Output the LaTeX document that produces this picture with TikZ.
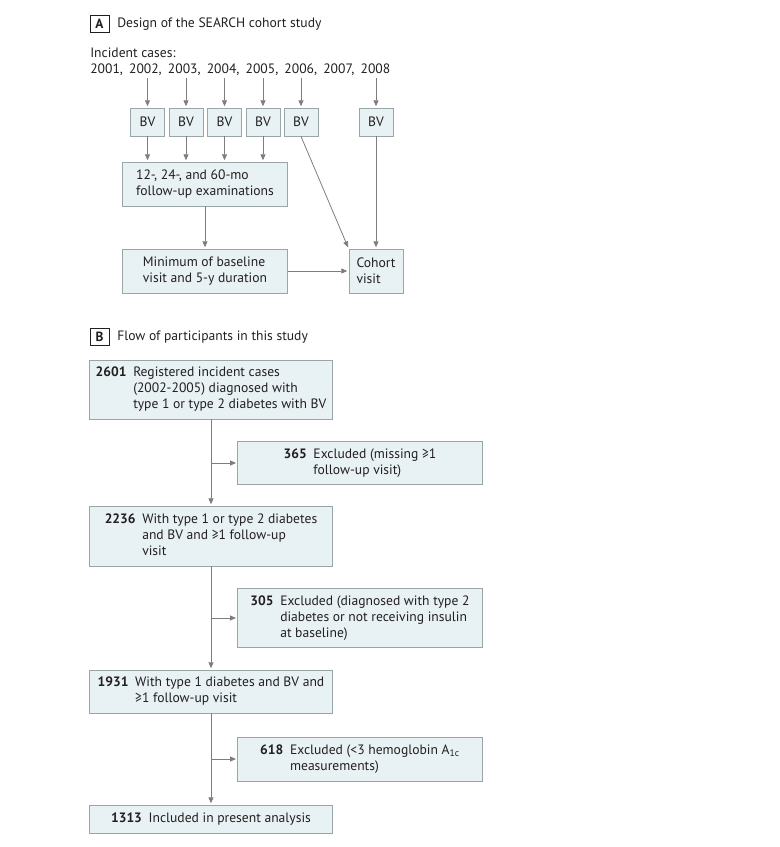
\documentclass[tikz,border=0pt]{standalone}
\usepackage{fontspec}
\setmainfont{PT Sans}
\usetikzlibrary{arrows.meta}
\definecolor{boxfill}{HTML}{E8F1F3}
\definecolor{boxline}{HTML}{9AA5A8}
\definecolor{linegray}{HTML}{7D7D7D}
\definecolor{ink}{HTML}{231F20}
\newcommand{\cnt}[2]{\begin{tabular}{@{}l@{\hspace{5pt}}l@{}}\textbf{#1} & #2\end{tabular}}
\tikzset{flow/.style={draw=linegray, line width=0.6pt,
  -{Triangle[length=4.5pt, width=3.8pt]}, shorten >=1pt}}
\tikzset{box/.style={draw=boxline, fill=boxfill, line width=0.6pt,
  inner sep=0pt, align=left, text=ink}}
\tikzset{bvbox/.style={box, minimum width=25.5pt, minimum height=21pt}}
\tikzset{widebox/.style={box, minimum width=123.5pt, minimum height=33pt}}
\tikzset{mainbox/.style={box, minimum width=182.6pt}}
\tikzset{exbox/.style={box, minimum width=183.4pt}}
\tikzset{panel/.style={draw=ink, fill=white, line width=0.7pt, inner sep=0pt,
  minimum width=14.25pt, minimum height=12.75pt, font=\bfseries, text=ink}}
\tikzset{plain/.style={inner sep=0pt, text=ink}}

\begin{document}
\begin{tikzpicture}[x=0.75pt, y=-0.75pt, font=\fontsize{10.2}{12}\selectfont]
	\useasboundingbox (0,0) rectangle (780,847);

	% A: design of the study
	\node[panel] (labA) at (99.5, 23.5) {A};
	\node[plain, anchor = west] (titA) at (117, 24) {Design of the SEARCH cohort study};
	\node[plain, anchor = west, align = left] (cases) at (90, 61.5) {Incident cases:\\\makebox[225pt][s]{2001, 2002, 2003, 2004, 2005, 2006, 2007, 2008}};

	\foreach \x [count=\i] in {147.5, 186, 224.5, 263, 301, 376} {
		\coordinate (yr\i) at (\x, 78);
		\node[bvbox] (bv\i) at (\x, 122) {BV};
		\draw[flow] (yr\i) -- (bv\i);
	}

	\node[widebox] (follow) at (205, 184) {12-, 24-, and 60-mo\\follow-up examinations};
	\node[widebox] (minimum) at (205, 271) {Minimum of baseline\\visit and 5-y duration};
	\node[box, minimum width=40.5pt, minimum height=33pt] (cohort) at (376, 271) {Cohort\\visit};

	\foreach \i in {1,...,4} {
		\draw[flow] (bv\i) -- (bv\i |- follow.north);
	}
	\draw[flow] (follow) -- (minimum);
	\draw[flow] (minimum) -- (cohort);
	\draw[flow] (bv5.south) -- (cohort.north west);
	\draw[flow] (bv6) -- (cohort);

	% B: flow of participants
	\node[panel] (labB) at (99.5, 337) {B};
	\node[plain, anchor = west] (titB) at (117, 337) {Flow of participants in this study};

	\node[mainbox, minimum height=44.25pt] (reg) at (211, 389.5) {\cnt{2601}{Registered incident cases\\ & (2002-2005) diagnosed with\\ & type 1 or type 2 diabetes with BV}};
	\node[exbox, minimum height=32.25pt] (ex1) at (360, 463) {\cnt{365}{Excluded (missing ≥1\\ & follow-up visit)}};
	\node[mainbox, minimum height=45pt] (fup) at (211, 536) {\cnt{2236}{With type 1 or type 2 diabetes\\ & and BV and ≥1 follow-up\\ & visit}};
	\node[exbox, minimum height=44.25pt] (ex2) at (360, 618) {\cnt{305}{Excluded (diagnosed with type 2\\ & diabetes or not receiving insulin\\ & at baseline)}};
	\node[mainbox, minimum height=32.25pt] (type1) at (211, 691.5) {\cnt{1931}{With type 1 diabetes and BV and\\ & ≥1 follow-up visit}};
	\node[exbox, minimum height=33pt] (ex3) at (360, 759) {\cnt{618}{Excluded (<3 hemoglobin A\textsubscript{1c}\\ & measurements)}};
	\node[mainbox, minimum height=21pt] (final) at (211, 819) {\cnt{1313}{Included in present analysis}};

	\draw[flow] (reg) -- (fup);
	\draw[flow] (fup) -- (type1);
	\draw[flow] (type1) -- (final);
	\draw[flow] (reg.south |- ex1.west) -- (ex1.west);
	\draw[flow] (fup.south |- ex2.west) -- (ex2.west);
	\draw[flow] (type1.south |- ex3.west) -- (ex3.west);
\end{tikzpicture}
\end{document}
